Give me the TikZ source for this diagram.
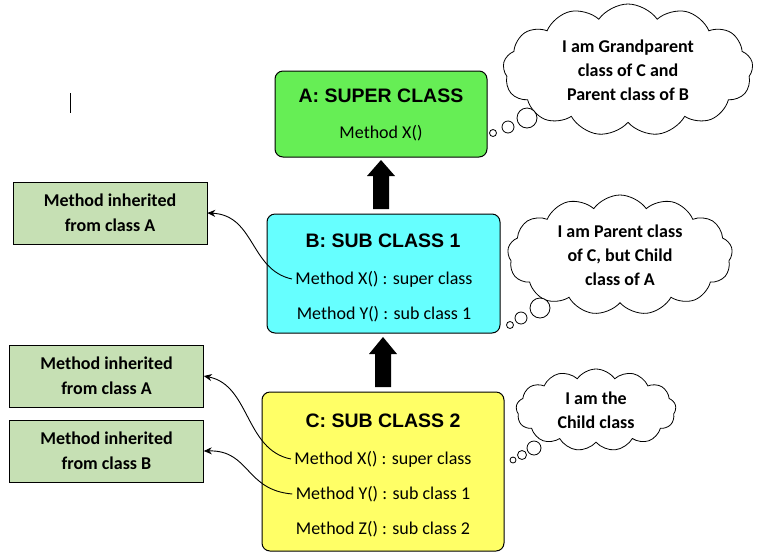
\documentclass[tikz,border=0pt]{standalone}
\usepackage{fontspec}
\setmainfont{Carlito}
\newfontfamily\arialf{Liberation Sans}
\usetikzlibrary{shapes.symbols,arrows.meta}
\definecolor{cA}{HTML}{66EE55}
\definecolor{cB}{HTML}{66FFFF}
\definecolor{cC}{HTML}{FFFF66}
\definecolor{cN}{HTML}{C6E0B4}
\begin{document}
\begin{tikzpicture}[x=1pt,y=-1pt,
  cls/.style={draw=black,line width=1pt,rounded corners=8pt},
  note/.style={draw=black,line width=0.6pt,fill=cN,minimum width=194pt,minimum height=62pt,align=center,font=\bfseries\fontsize{18}{25}\selectfont},
  ttl/.style={font=\arialf\bfseries\fontsize{19.5}{22}\selectfont},
  mth/.style={font=\fontsize{18}{20}\selectfont},
  cld/.style={cloud,draw=black,line width=0.8pt,fill=white,cloud puffs=13,cloud puff arc=110,aspect=1.8,align=center,inner sep=0pt,font=\bfseries\fontsize{18}{24}\selectfont},
  bub/.style={circle,draw=black,line width=0.8pt,fill=white,inner sep=0pt},
  cur/.style={-{Stealth[length=8pt,width=7pt]},line width=0.9pt}]
\useasboundingbox (0,0) rectangle (774,558);
\draw[line width=0.6pt] (70,93) -- (70,113);
% class boxes
\draw[cls,fill=cA] (275,71) rectangle (487,157);
\draw[cls,fill=cB] (267,214) rectangle (500,333);
\draw[cls,fill=cC] (262,392) rectangle (504,551);
\node[ttl] (at) at (381,96) {A: SUPER CLASS};
\node[mth] (ax) at (381,133) {Method X()};
\node[ttl] (bt) at (383,241) {B: SUB CLASS 1};
\node[mth] (bx) at (384,279) {Method X() : super class};
\node[mth] (by) at (384,314) {Method Y() : sub class 1};
\node[ttl] (ct) at (383,421) {C: SUB CLASS 2};
\node[mth] (cx) at (383,459) {Method X() : super class};
\node[mth] (cy) at (383,494) {Method Y() : sub class 1};
\node[mth] (cz) at (383,529) {Method Z() : sub class 2};
% block arrows
\fill (373,209) -- (373,176) -- (367,176) -- (381,160) -- (395,176) -- (389,176) -- (389,209) -- cycle;
\fill (375,387) -- (375,354) -- (369,354) -- (383,337) -- (397,354) -- (391,354) -- (391,387) -- cycle;
% notes
\node[note] (n1) at (110,213) {Method inherited\\from class A};
\node[note] (n2) at (106.5,376) {Method inherited\\from class A};
\node[note] (n3) at (106.5,451) {Method inherited\\from class B};
% curved connectors
\draw[cur] (bx.west) .. controls (250,270) and (255,215) .. (n1.east);
\draw[cur] (cx.west) .. controls (245,450) and (250,385) .. (n2.east);
\draw[cur] (cy.west) .. controls (245,490) and (250,450) .. (n3.east);
% clouds
\node[cld,minimum width=250pt,minimum height=132pt] (k1) at (628,70) {I am Grandparent\\class of C and\\Parent class of B};
\node[bub,minimum size=20pt] (k1a) at (527,118) {};
\node[bub,minimum size=12pt] (k1b) at (508,127) {};
\node[bub,minimum size=7pt] (k1c) at (493,133) {};
\node[cld,minimum width=225pt,minimum height=120pt] (k2) at (620,255) {I am Parent class\\of C, but Child\\class of A};
\node[bub,minimum size=20pt] (k2a) at (540,308) {};
\node[bub,minimum size=12pt] (k2b) at (521,318) {};
\node[bub,minimum size=7pt] (k2c) at (510,325) {};
\node[cld,minimum width=160pt,minimum height=82pt] (k3) at (596,410) {I am the\\Child class};
\node[bub,minimum size=14pt] (k3a) at (534,448) {};
\node[bub,minimum size=9pt] (k3b) at (522,455) {};
\node[bub,minimum size=6pt] (k3c) at (513,460) {};
\end{tikzpicture}
\end{document}
